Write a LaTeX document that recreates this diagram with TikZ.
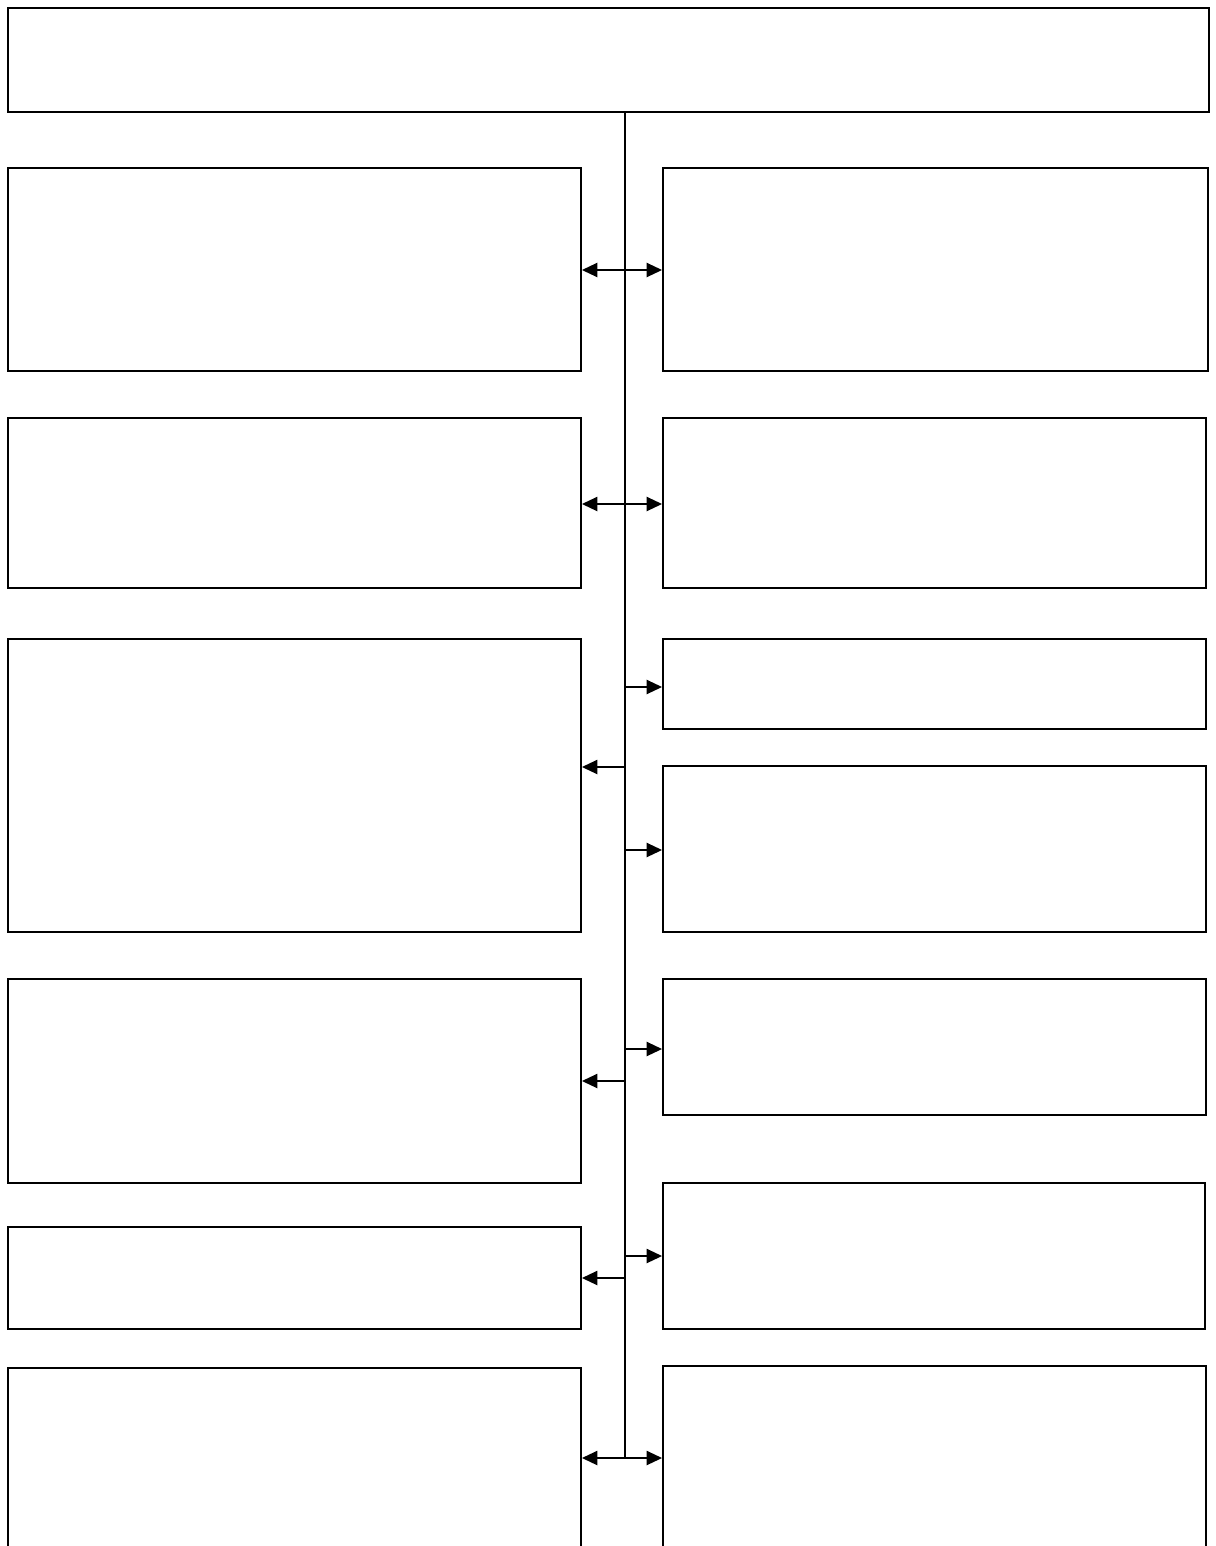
\documentclass[tikz,border=0pt]{standalone}
\usepackage{tikz}
\usetikzlibrary{arrows.meta, positioning, calc}

\tikzset{
    box/.style={draw=black, line width=1.2pt, inner sep=0pt, fill=white},
    link/.style={line width=1.5pt, >={Triangle[length=11pt,width=10pt]}}
}

\begin{document}
\begin{tikzpicture}[x=0.025cm, y=-0.025cm]
    \useasboundingbox (0,0) rectangle (1216,1546);

    % header
    \node[box, minimum width=30.025cm, minimum height=2.6cm] (top) at (608.5,60) {};

    % left column
    \node[box, minimum width=14.325cm, minimum height=5.075cm] (L1) at (294.5,269.5) {};
    \node[box, minimum width=14.325cm, minimum height=4.25cm]  (L2) at (294.5,503) {};
    \node[box, minimum width=14.325cm, minimum height=7.325cm] (L3) at (294.5,785.5) {};
    \node[box, minimum width=14.325cm, minimum height=5.1cm]   (L4) at (294.5,1081) {};
    \node[box, minimum width=14.325cm, minimum height=2.55cm]  (L5) at (294.5,1278) {};
    \node[box, minimum width=14.325cm, minimum height=4.5cm]   (L6) at (294.5,1458) {};

    % right column
    \node[box, minimum width=13.625cm, minimum height=5.075cm] (R1) at (935.5,269.5) {};
    \node[box, minimum width=13.575cm, minimum height=4.25cm]  (R2) at (934.5,503) {};
    \node[box, minimum width=13.575cm, minimum height=2.25cm]  (R3) at (934.5,684) {};
    \node[box, minimum width=13.575cm, minimum height=4.15cm]  (R4) at (934.5,849) {};
    \node[box, minimum width=13.575cm, minimum height=3.4cm]   (R5) at (934.5,1047) {};
    \node[box, minimum width=13.55cm,  minimum height=3.65cm]  (R6) at (934,1256) {};
    \node[box, minimum width=13.575cm, minimum height=4.55cm]  (R7) at (934.5,1457) {};

    % branch points on the spine
    \coordinate (s0) at (625,112);
    \coordinate (sa) at (625,270);
    \coordinate (sb) at (625,504);
    \coordinate (s1) at (625,687);
    \coordinate (s2) at (625,767);
    \coordinate (s3) at (625,850);
    \coordinate (s4) at (625,1049);
    \coordinate (s5) at (625,1081);
    \coordinate (s6) at (625,1256);
    \coordinate (s7) at (625,1278);
    \coordinate (s8) at (625,1458);

    % spine
    \draw[line width=1.2pt] (top.south -| s0) -- (s8);

    % connectors
    \draw[link, <->] (sa -| L1.east) -- (sa -| R1.west);
    \draw[link, <->] (sb -| L2.east) -- (sb -| R2.west);
    \draw[link, ->] (s1) -- (s1 -| R3.west);
    \draw[link, ->] (s2) -- (s2 -| L3.east);
    \draw[link, ->] (s3) -- (s3 -| R4.west);
    \draw[link, ->] (s4) -- (s4 -| R5.west);
    \draw[link, ->] (s5) -- (s5 -| L4.east);
    \draw[link, ->] (s6) -- (s6 -| R6.west);
    \draw[link, ->] (s7) -- (s7 -| L5.east);
    \draw[link, <->] (s8 -| L6.east) -- (s8 -| R7.west);
\end{tikzpicture}
\end{document}
